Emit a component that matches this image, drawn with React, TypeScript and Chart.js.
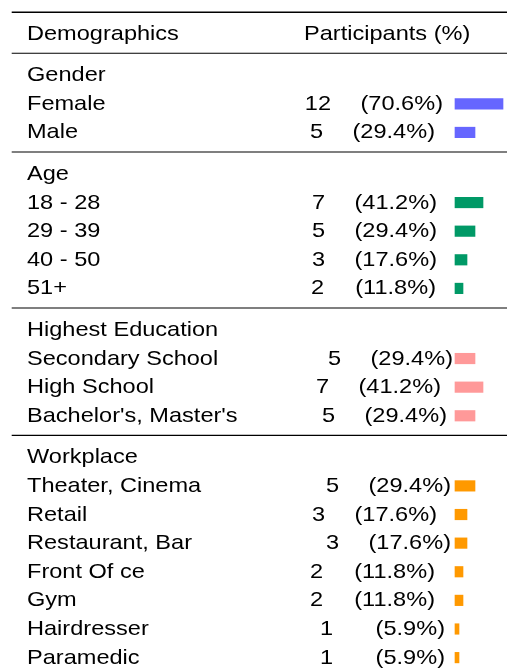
import React, { useEffect, useRef } from 'react';
import { Chart, registerables } from 'chart.js';

Chart.register(...registerables);

// ---------- data ----------
const headerLabels = ['Demographics', 'Participants (%)'];
const groupTitles = ['Gender', 'Age', 'Highest Education', 'Workplace'];

const genderCategories = ['Female', 'Male'];
const genderCounts = [12, 5];
const genderPercents = ['70.6%', '29.4%'];

const ageCategories = ['18 - 28', '29 - 39', '40 - 50', '51+'];
const ageCounts = [7, 5, 3, 2];
const agePercents = ['41.2%', '29.4%', '17.6%', '11.8%'];

const educationCategories = ['Secondary School', 'High School', "Bachelor's, Master's"];
const educationCounts = [5, 7, 5];
const educationPercents = ['29.4%', '41.2%', '29.4%'];

const workplaceCategories = ['Theater, Cinema', 'Retail', 'Restaurant, Bar', 'Front Of ce', 'Gym', 'Hairdresser', 'Paramedic'];
const workplaceCounts = [5, 3, 3, 2, 2, 1, 1];
const workplacePercents = ['29.4%', '17.6%', '17.6%', '11.8%', '11.8%', '5.9%', '5.9%'];

const groupColors = ['#6666ff', '#009966', '#ff9999', '#ff9900'];

// ---------- layout ----------
const W = 507;
const H = 670;
const ROW_PITCH = 28.62;
const FIRST_ROW_Y = 33.7;
const GROUP_GAP = 1.45;
const BAR_ZERO_X = 455;
const PX_PER_PARTICIPANT = 4;
const LABEL_X = 27;
const HEADER2_X = 304;
const VALUE_RIGHT_X = 437;
const COUNT_TO_PCT = 112;
const valueShift = [6, -2, 0, 0, 0, -1, 16, 4, 10, 14, 0, 14, -2, -2, 8, 8];
const FONT_SIZE = 20.2;
const H_STRETCH = 1.167;
const FONT = `${FONT_SIZE}px "Liberation Sans", Arial, sans-serif`;
const TEXT_DY = 6;

const groups = [
  { cats: genderCategories, counts: genderCounts, pcts: genderPercents },
  { cats: ageCategories, counts: ageCounts, pcts: agePercents },
  { cats: educationCategories, counts: educationCounts, pcts: educationPercents },
  { cats: workplaceCategories, counts: workplaceCounts, pcts: workplacePercents },
];

// row positions in row units (0 = header row)
const titleRows: number[] = [];
const itemRows: number[][] = [];
const ruleRows: number[] = [];
{
  let u = 0;
  ruleRows.push(GROUP_GAP / 2);
  groups.forEach((g, gi) => {
    u += GROUP_GAP;
    titleRows.push(u);
    const rows: number[] = [];
    g.cats.forEach(() => {
      u += 1;
      rows.push(u);
    });
    itemRows.push(rows);
    if (gi < groups.length - 1) ruleRows.push(u + GROUP_GAP / 2);
  });
}
const TOP_RULE_ROW = -0.71;

function drawStretched(ctx: CanvasRenderingContext2D, text: string, x: number, y: number, align: CanvasTextAlign) {
  ctx.save();
  ctx.translate(x, y);
  ctx.scale(H_STRETCH, 1);
  ctx.textAlign = align;
  ctx.fillText(text, 0, 0);
  ctx.restore();
}

const tablePlugin = {
  id: 'tableText',
  afterDatasetsDraw(chart: any) {
    const ctx: CanvasRenderingContext2D = chart.ctx;
    const ys = chart.scales.y;
    ctx.save();
    ctx.fillStyle = '#000';
    ctx.font = FONT;
    ctx.textBaseline = 'alphabetic';
    // rules
    ctx.strokeStyle = '#000';
    const rule = (u: number, lw: number) => {
      const y = ys.getPixelForValue(u) - 1.2;
      ctx.lineWidth = lw;
      ctx.beginPath();
      ctx.moveTo(11.7, y);
      ctx.lineTo(W, y);
      ctx.stroke();
    };
    rule(TOP_RULE_ROW, 1.6);
    ruleRows.forEach((u) => rule(u, 1.1));
    // header
    const hy = ys.getPixelForValue(0) + TEXT_DY;
    drawStretched(ctx, headerLabels[0], LABEL_X, hy, 'left');
    drawStretched(ctx, headerLabels[1], HEADER2_X, hy, 'left');
    let k = 0;
    groups.forEach((g, gi) => {
      drawStretched(ctx, groupTitles[gi], LABEL_X, ys.getPixelForValue(titleRows[gi]) + TEXT_DY, 'left');
      g.cats.forEach((c, ci) => {
        const y = ys.getPixelForValue(itemRows[gi][ci]) + TEXT_DY;
        drawStretched(ctx, c, LABEL_X, y, 'left');
        const r = VALUE_RIGHT_X + valueShift[k];
        drawStretched(ctx, `(${g.pcts[ci]})`, r, y, 'right');
        drawStretched(ctx, String(g.counts[ci]), r - COUNT_TO_PCT, y, 'right');
        k++;
      });
    });
    ctx.restore();
  },
};

export default function App() {
  const ref = useRef<HTMLCanvasElement>(null);
  useEffect(() => {
    const yMin = -FIRST_ROW_Y / ROW_PITCH;
    const xMin = -BAR_ZERO_X / PX_PER_PARTICIPANT;
    const chart = new Chart(ref.current as HTMLCanvasElement, {
      type: 'bar',
      data: {
        datasets: groups.map((g, gi) => ({
          label: groupTitles[gi],
          data: g.counts.map((v, ci) => ({ x: v, y: itemRows[gi][ci] })),
          backgroundColor: groupColors[gi],
          borderWidth: 0,
          barThickness: 10.5,
          grouped: false,
        })) as any,
      },
      options: {
        indexAxis: 'y',
        responsive: false,
        maintainAspectRatio: false,
        animation: false,
        devicePixelRatio: 1,
        events: [],
        layout: { padding: 0 },
        plugins: {
          legend: { display: false },
          title: { display: false },
          tooltip: { enabled: false },
        },
        scales: {
          x: {
            type: 'linear',
            display: false,
            offset: false,
            grace: 0,
            min: xMin,
            max: xMin + W / PX_PER_PARTICIPANT,
          },
          y: {
            type: 'linear',
            display: false,
            offset: false,
            grace: 0,
            reverse: true,
            min: yMin,
            max: yMin + H / ROW_PITCH,
          },
        },
      } as any,
      plugins: [tablePlugin],
    });
    return () => chart.destroy();
  }, []);
  return (
    <div style={{ position: 'absolute', left: 0, top: 0, width: W, height: H, background: '#fff' }}>
      <canvas ref={ref} width={W} height={H} style={{ display: 'block', width: W, height: H }} />
    </div>
  );
}
